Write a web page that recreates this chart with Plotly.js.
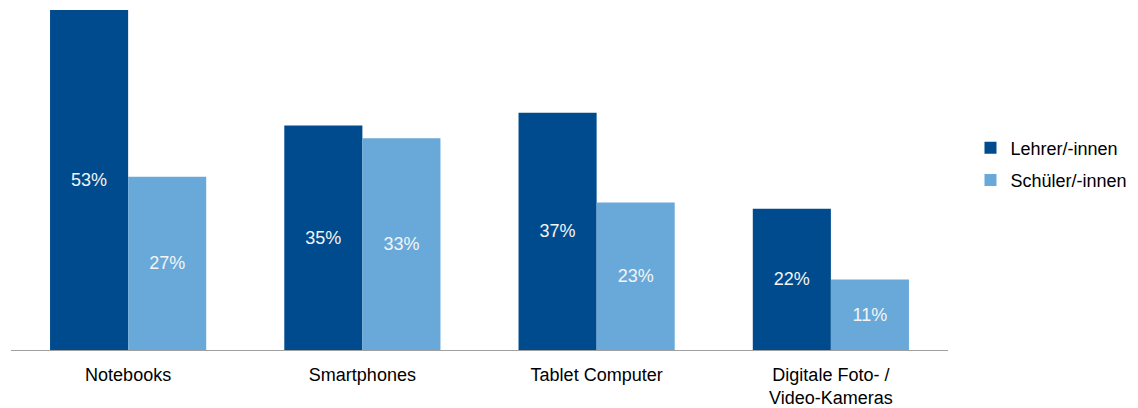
<!DOCTYPE html>
<html>
<head>
<meta charset="utf-8">
<script src="https://cdn.plot.ly/plotly-3.0.1.min.js"></script>
<style>html,body{margin:0;padding:0;background:#fff;}#chart{width:1138px;height:408px;}</style>
</head>
<body>
<div id="chart"></div>
<script>
const categories = ["Notebooks", "Smartphones", "Tablet Computer", "Digitale Foto- /<br>Video-Kameras"];
const seriesNames = ["Lehrer/-innen", "Schüler/-innen"];
const lehrer = [53, 35, 37, 22];
const schueler = [27, 33, 23, 11];
const colors = ["#004b8d", "#68a9da"];

const mk = (name, vals, color, grp) => ({
  type: "bar",
  name: name,
  legendgroup: grp,
  x: categories,
  y: vals,
  marker: {color: color, line: {width: 0}},
  text: vals.map(v => v + "%"),
  textposition: "inside",
  insidetextanchor: "middle",
  textfont: {family: "Liberation Sans, Arial, sans-serif", size: 18, color: "#f4f4f4"},
  hoverinfo: "none",
  cliponaxis: false
});

const data = [mk(seriesNames[0], lehrer, colors[0], "a"), mk(seriesNames[1], schueler, colors[1], "b")];

const layout = {
  width: 1138, height: 408,
  margin: {l: 11, r: 190, t: 10, b: 58, autoexpand: false},
  paper_bgcolor: "#ffffff", plot_bgcolor: "#ffffff",
  barmode: "group",
  bargap: 1/3,
  bargroupgap: 0,
  font: {family: "Liberation Sans, Arial, sans-serif", size: 18, color: "#000000"},
  xaxis: {
    showline: true, linecolor: "#a0a0a0", linewidth: 1,
    ticks: "", showgrid: false, zeroline: false,
    ticklabelstandoff: 8,
    tickfont: {size: 18, color: "#000000"}
  },
  yaxis: {
    range: [0, 53], visible: false, showgrid: false, zeroline: false, fixedrange: true
  },
  showlegend: true,
  legend: {
    x: 1.024, xanchor: "left", y: 0.547, yanchor: "middle",
    font: {size: 18, color: "#000000"},
    itemwidth: 30, tracegroupgap: 6,
    traceorder: "grouped"
  }
};

Plotly.newPlot("chart", data, layout, {staticPlot: true, displayModeBar: false});
</script>
</body>
</html>
